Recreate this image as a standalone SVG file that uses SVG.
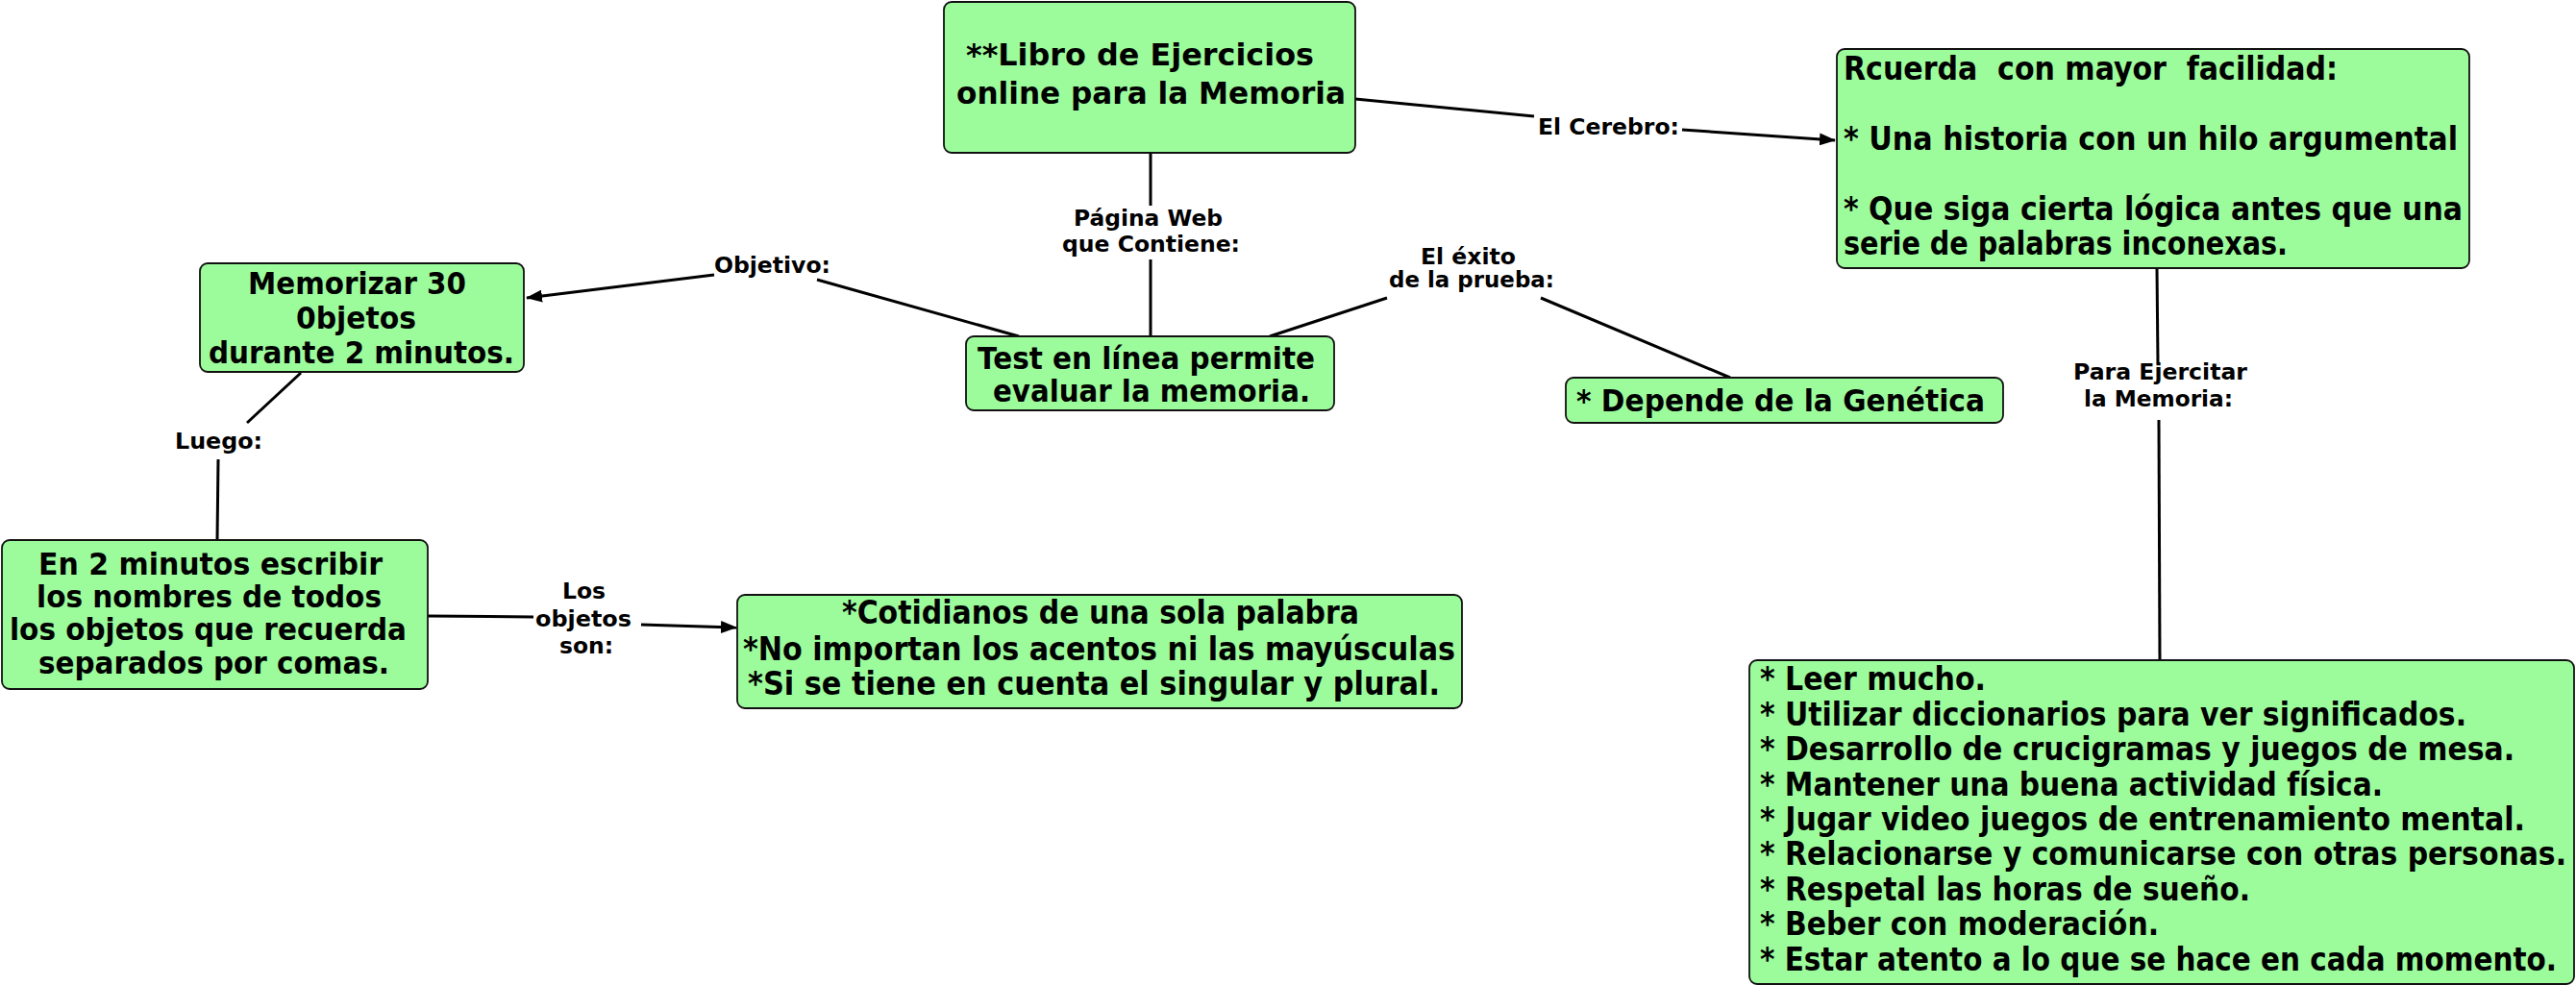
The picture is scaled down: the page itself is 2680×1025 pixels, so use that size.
<svg xmlns="http://www.w3.org/2000/svg" width="2680" height="1025" viewBox="0 0 2680 1025">
<defs>
<marker id="arr" markerUnits="userSpaceOnUse" markerWidth="17" markerHeight="13" refX="16" refY="6.5" orient="auto">
<path d="M0,0 L17,6.5 L0,13 Z" fill="#000"/>
</marker>
<style>
.box{fill:#9cfc9c;stroke:#111;stroke-width:1.8}
.t{font-family:"DejaVu Sans","Verdana",sans-serif;font-weight:bold;font-size:32px;fill:#000}
.c{font-family:"DejaVu Sans Condensed","DejaVu Sans",sans-serif;font-stretch:condensed;font-weight:bold;font-size:33px;fill:#000;white-space:pre}
.l{font-family:"DejaVu Sans","Verdana",sans-serif;font-weight:bold;font-size:23px;fill:#000}
.e{fill:none;stroke:#000;stroke-width:3}
</style>
</defs>
<rect width="2680" height="1025" fill="#fff"/>
<g id="connectors">
<line class="e" x1="1410" y1="103" x2="1596" y2="121"/>
<line class="e" x1="1750" y1="135" x2="1909" y2="146" marker-end="url(#arr)"/>
<line class="e" x1="1197" y1="159" x2="1197" y2="214"/>
<line class="e" x1="1197" y1="270" x2="1197" y2="350"/>
<line class="e" x1="1060" y1="350" x2="850" y2="291"/>
<line class="e" x1="743" y1="286" x2="548" y2="310" marker-end="url(#arr)"/>
<line class="e" x1="1321" y1="350" x2="1443" y2="310"/>
<line class="e" x1="1603" y1="310" x2="1800" y2="393"/>
<line class="e" x1="313" y1="388" x2="257" y2="440"/>
<line class="e" x1="227" y1="478" x2="226" y2="562"/>
<line class="e" x1="445" y1="641" x2="555" y2="642"/>
<line class="e" x1="667" y1="650" x2="766" y2="653" marker-end="url(#arr)"/>
<line class="e" x1="2244" y1="279" x2="2245" y2="378"/>
<line class="e" x1="2246" y1="437" x2="2247" y2="687"/>
<text class="l" x="1600" y="140" textLength="147" lengthAdjust="spacingAndGlyphs">El Cerebro:</text>
<text class="l" x="1117" y="235" textLength="155" lengthAdjust="spacingAndGlyphs">Página Web</text>
<text class="l" x="1105" y="262" textLength="185" lengthAdjust="spacingAndGlyphs">que Contiene:</text>
<text class="l" x="743" y="284" textLength="121" lengthAdjust="spacingAndGlyphs">Objetivo:</text>
<text class="l" x="1478" y="275" textLength="99" lengthAdjust="spacingAndGlyphs">El éxito</text>
<text class="l" x="1445" y="299" textLength="172" lengthAdjust="spacingAndGlyphs">de la prueba:</text>
<text class="l" x="182" y="467" textLength="91" lengthAdjust="spacingAndGlyphs">Luego:</text>
<text class="l" x="585" y="623" textLength="45" lengthAdjust="spacingAndGlyphs">Los</text>
<text class="l" x="557" y="652" textLength="100" lengthAdjust="spacingAndGlyphs">objetos</text>
<text class="l" x="582" y="680" textLength="56" lengthAdjust="spacingAndGlyphs">son:</text>
<text class="l" x="2157" y="395" textLength="181" lengthAdjust="spacingAndGlyphs">Para Ejercitar</text>
<text class="l" x="2168" y="423" textLength="155" lengthAdjust="spacingAndGlyphs">la Memoria:</text>
</g>
<g id="main">
<rect class="box" x="982" y="2" width="428" height="157" rx="8"/>
<text class="t" x="1005" y="68" textLength="362" lengthAdjust="spacingAndGlyphs">**Libro de Ejercicios</text>
<text class="t" x="995" y="108" textLength="405" lengthAdjust="spacingAndGlyphs">online para la Memoria</text>
</g>
<g id="cerebro">
<rect class="box" x="1911" y="51" width="658" height="228" rx="8"/>
<text class="c" x="1918" y="83" textLength="514" lengthAdjust="spacingAndGlyphs">Rcuerda  con mayor  facilidad:</text>
<text class="c" x="1918" y="156" textLength="639" lengthAdjust="spacingAndGlyphs">* Una historia con un hilo argumental</text>
<text class="c" x="1918" y="229" textLength="644" lengthAdjust="spacingAndGlyphs">* Que siga cierta lógica antes que una</text>
<text class="c" x="1918" y="265" textLength="462" lengthAdjust="spacingAndGlyphs">serie de palabras inconexas.</text>
</g>
<g id="memorizar">
<rect class="box" x="208" y="274" width="337" height="113" rx="8"/>
<text class="t" x="258" y="306" textLength="227" lengthAdjust="spacingAndGlyphs">Memorizar 30</text>
<text class="t" x="308" y="342" textLength="125" lengthAdjust="spacingAndGlyphs">0bjetos</text>
<text class="t" x="217" y="378" textLength="318" lengthAdjust="spacingAndGlyphs">durante 2 minutos.</text>
</g>
<g id="test">
<rect class="box" x="1005" y="350" width="383" height="77" rx="8"/>
<text class="t" x="1017" y="384" textLength="351" lengthAdjust="spacingAndGlyphs">Test en línea permite</text>
<text class="t" x="1033" y="418" textLength="330" lengthAdjust="spacingAndGlyphs">evaluar la memoria.</text>
</g>
<g id="genetica">
<rect class="box" x="1629" y="393" width="455" height="47" rx="8"/>
<text class="t" x="1640" y="428" textLength="425" lengthAdjust="spacingAndGlyphs">* Depende de la Genética</text>
</g>
<g id="escribir">
<rect class="box" x="2" y="562" width="443" height="155" rx="8"/>
<text class="t" x="40" y="598" textLength="358" lengthAdjust="spacingAndGlyphs">En 2 minutos escribir</text>
<text class="t" x="38" y="632" textLength="359" lengthAdjust="spacingAndGlyphs">los nombres de todos</text>
<text class="t" x="10" y="666" textLength="413" lengthAdjust="spacingAndGlyphs">los objetos que recuerda</text>
<text class="t" x="40" y="701" textLength="365" lengthAdjust="spacingAndGlyphs">separados por comas.</text>
</g>
<g id="objetos">
<rect class="box" x="767" y="619" width="754" height="118" rx="8"/>
<text class="c" x="876" y="649" textLength="538" lengthAdjust="spacingAndGlyphs">*Cotidianos de una sola palabra</text>
<text class="c" x="773" y="687" textLength="741" lengthAdjust="spacingAndGlyphs">*No importan los acentos ni las mayúsculas</text>
<text class="c" x="778" y="723" textLength="720" lengthAdjust="spacingAndGlyphs">*Si se tiene en cuenta el singular y plural.</text>
</g>
<g id="ejercitar">
<rect class="box" x="1820" y="687" width="858" height="337" rx="8"/>
<text class="c" x="1831" y="718" textLength="235" lengthAdjust="spacingAndGlyphs">* Leer mucho.</text>
<text class="c" x="1831" y="755" textLength="735" lengthAdjust="spacingAndGlyphs">* Utilizar diccionarios para ver significados.</text>
<text class="c" x="1831" y="791" textLength="785" lengthAdjust="spacingAndGlyphs">* Desarrollo de crucigramas y juegos de mesa.</text>
<text class="c" x="1831" y="828" textLength="648" lengthAdjust="spacingAndGlyphs">* Mantener una buena actividad física.</text>
<text class="c" x="1831" y="864" textLength="796" lengthAdjust="spacingAndGlyphs">* Jugar video juegos de entrenamiento mental.</text>
<text class="c" x="1831" y="900" textLength="839" lengthAdjust="spacingAndGlyphs">* Relacionarse y comunicarse con otras personas.</text>
<text class="c" x="1831" y="937" textLength="510" lengthAdjust="spacingAndGlyphs">* Respetal las horas de sueño.</text>
<text class="c" x="1831" y="973" textLength="415" lengthAdjust="spacingAndGlyphs">* Beber con moderación.</text>
<text class="c" x="1831" y="1010" textLength="829" lengthAdjust="spacingAndGlyphs">* Estar atento a lo que se hace en cada momento.</text>
</g>
</svg>
